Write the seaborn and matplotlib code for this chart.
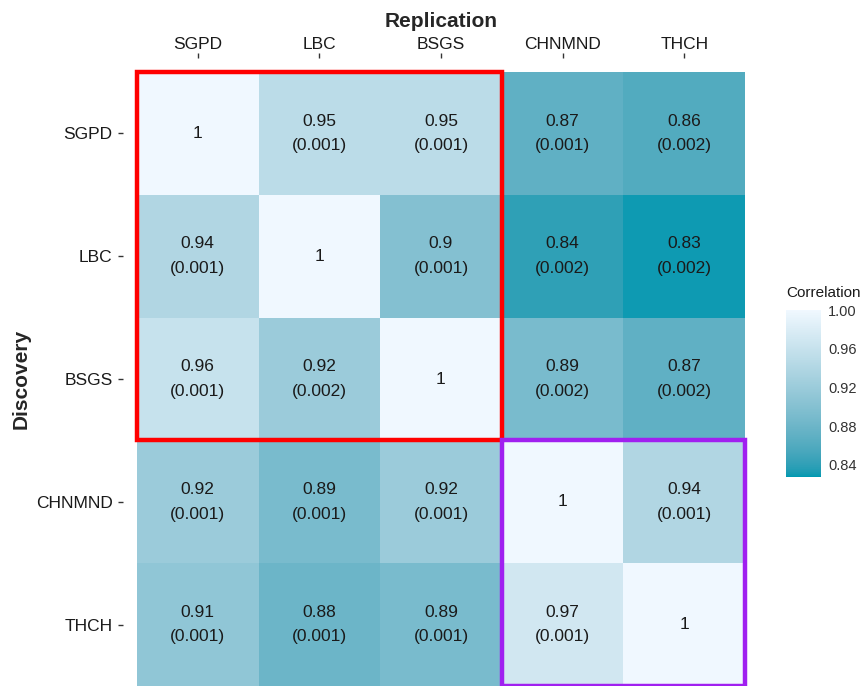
import numpy as np
import pandas as pd
import matplotlib
matplotlib.use("Agg")
import matplotlib.pyplot as plt
from matplotlib.colors import ListedColormap, to_rgb
from matplotlib.patches import Rectangle
from matplotlib.ticker import FormatStrFormatter
import seaborn as sns

sns.set_theme(style="white")
plt.rcParams["font.family"] = ["Liberation Sans", "DejaVu Sans"]

cohorts = ["SGPD", "LBC", "BSGS", "CHNMND", "THCH"]

# correlation between discovery (rows) and replication (columns)
corr_sgpd = [1.00, 0.95, 0.95, 0.87, 0.86]
corr_lbc = [0.94, 1.00, 0.90, 0.84, 0.83]
corr_bsgs = [0.96, 0.92, 1.00, 0.89, 0.87]
corr_chnmnd = [0.92, 0.89, 0.92, 1.00, 0.94]
corr_thch = [0.91, 0.88, 0.89, 0.97, 1.00]

# p-values (None on the diagonal)
p_sgpd = [None, 0.001, 0.001, 0.001, 0.002]
p_lbc = [0.001, None, 0.001, 0.002, 0.002]
p_bsgs = [0.001, 0.002, None, 0.002, 0.002]
p_chnmnd = [0.001, 0.001, 0.001, None, 0.001]
p_thch = [0.001, 0.001, 0.001, 0.001, None]

cbar_ticks = [0.84, 0.88, 0.92, 0.96, 1.00]

corr = pd.DataFrame([corr_sgpd, corr_lbc, corr_bsgs, corr_chnmnd, corr_thch],
                    index=cohorts, columns=cohorts)
pvals = [p_sgpd, p_lbc, p_bsgs, p_chnmnd, p_thch]


def fmt(r, p):
    if p is None:
        return f"{r:g}"
    return f"{r:g}\n({p:.3f})"


annot = np.array([[fmt(corr.iloc[i, j], pvals[i][j]) for j in range(5)]
                  for i in range(5)])


# gradient interpolated in CIE Lab space
def srgb_to_lab(rgb):
    c = np.asarray(rgb, dtype=float)
    c = np.where(c <= 0.04045, c / 12.92, ((c + 0.055) / 1.055) ** 2.4)
    m = np.array([[0.4124564, 0.3575761, 0.1804375],
                  [0.2126729, 0.7151522, 0.0721750],
                  [0.0193339, 0.1191920, 0.9503041]])
    xyz = m @ c / np.array([0.95047, 1.0, 1.08883])
    f = np.where(xyz > 216 / 24389, np.cbrt(xyz), (24389 / 27 * xyz + 16) / 116)
    return np.array([116 * f[1] - 16, 500 * (f[0] - f[1]), 200 * (f[1] - f[2])])


def lab_to_srgb(lab):
    L, a, b = lab
    fy = (L + 16) / 116
    fx = fy + a / 500
    fz = fy - b / 200
    f = np.array([fx, fy, fz])
    xyz = np.where(f ** 3 > 216 / 24389, f ** 3, (116 * f - 16) / (24389 / 27))
    xyz = xyz * np.array([0.95047, 1.0, 1.08883])
    minv = np.array([[3.2404542, -1.5371385, -0.4985314],
                     [-0.9692660, 1.8760108, 0.0415560],
                     [0.0556434, -0.2040259, 1.0572252]])
    c = minv @ xyz
    c = np.where(c <= 0.0031308, 12.92 * c, 1.055 * np.abs(c) ** (1 / 2.4) - 0.055)
    return np.clip(c, 0, 1)


low, high = srgb_to_lab(to_rgb("#0099B1")), srgb_to_lab(to_rgb("#F0F8FF"))
cmap = ListedColormap([lab_to_srgb(low + t * (high - low))
                       for t in np.linspace(0, 1, 256)])

fig = plt.figure(figsize=(8.62, 6.86), dpi=100)
ax = fig.add_axes([137 / 862, 0.0, (745 - 137) / 862, (686 - 72) / 686])
cax = fig.add_axes([786 / 862, 1 - 477 / 686, 35 / 862, 167 / 686])

sns.heatmap(corr, ax=ax, cmap=cmap, vmin=0.8275, vmax=1.0,
            annot=annot, fmt="", annot_kws={"size": 12.5, "color": "#1a1a1a",
                                           "linespacing": 1.8},
            cbar_ax=cax, cbar_kws={"ticks": cbar_ticks})

ax.xaxis.tick_top()
ax.xaxis.set_label_position("top")
ax.spines["left"].set_position(("outward", 10))
ax.spines["top"].set_position(("outward", 10))
ax.set_xlabel("Replication", fontsize=15, fontweight="bold", labelpad=7)
ax.set_ylabel("Discovery", fontsize=15, fontweight="bold", labelpad=4)
ax.tick_params(axis="both", which="both", length=3.5, width=1, color="#333333",
               labelsize=12.5, labelcolor="#1a1a1a", pad=3,
               top=True, bottom=False, left=True)
ax.tick_params(axis="y", pad=4)
ax.tick_params(axis="x", pad=1)
ax.set_yticklabels(cohorts, rotation=0)
ax.set_xticklabels(cohorts, rotation=0)

# highlight blocks
ax.add_patch(Rectangle((0, 0), 3, 3, fill=False, edgecolor="#FF0000",
                       linewidth=3.2, clip_on=False, zorder=5))
ax.add_patch(Rectangle((3, 3), 2, 2, fill=False, edgecolor="#A020F0",
                       linewidth=3.2, clip_on=False, zorder=5))

# colorbar styling
cb = ax.collections[0].colorbar
cb.outline.set_visible(False)
cax.tick_params(axis="y", which="both", direction="in", length=4.5, width=0.8,
                color="white", left=True, right=True, labelsize=10.5,
                labelcolor="#333333", pad=5)
cax.yaxis.set_major_formatter(FormatStrFormatter("%.2f"))
cax.text(0.0, 1.06, "Correlation", transform=cax.transAxes, fontsize=11,
         ha="left", va="bottom", color="#1a1a1a")

fig.savefig("out.png", dpi=100)
